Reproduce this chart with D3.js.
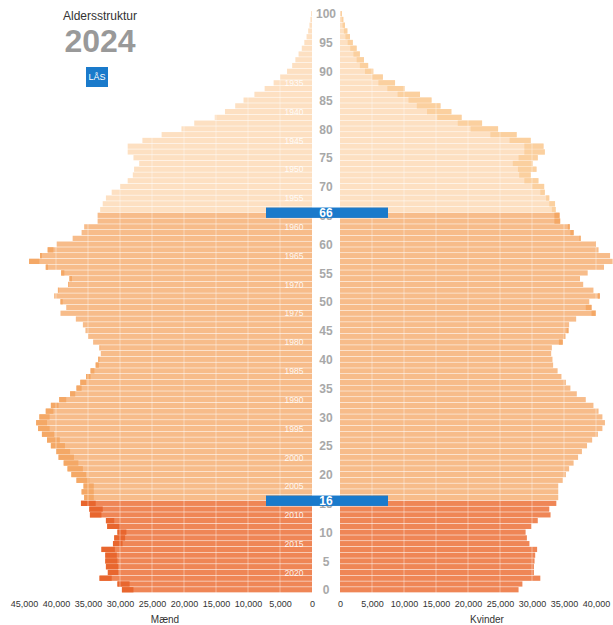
<!DOCTYPE html>
<html>
<head>
<meta charset="utf-8">
<script src="https://cdn.jsdelivr.net/npm/d3@7"></script>
<style>
  body { margin: 0; background: #fff; font-family: "Liberation Sans", Arial, sans-serif; }
</style>
</head>
<body>
<div id="pyramid"></div>
<script>
// Aldersstruktur 2024 - population pyramid (men left, women right)

const ages = d3.range(0, 101);

// men by age 0..100
const maend = [
  29700, 30400, 33200, 31900, 32200, 32300, 32300, 32900, 31100, 30900,
  30400, 32000, 32200, 34700, 34800, 36100, 35600, 36000, 35700, 36800,
  37600, 38200, 38800, 39600, 40000, 40800, 41400, 42200, 42800, 43100,
  42600, 41600, 40800, 39500, 37800, 36800, 36200, 35300, 34600, 33800,
  33400, 33000, 33200, 34200, 35000, 35400, 35800, 36900, 39300, 38400,
  39300, 40300, 39700, 38100, 37900, 39200, 41600, 44200, 42500, 41300,
  39900, 37400, 36000, 35600, 33500, 33500, 33100, 32700, 32200, 31300,
  30000, 28800, 28000, 27800, 27000, 27900, 28800, 28800, 26500, 23500,
  20400, 18400, 15200, 13600, 12000, 10700, 9000, 7400, 6000, 5000,
  3900, 3100, 2600, 2100, 1600, 1200, 850, 600, 400, 250,
  150
];

// women by age 0..100
const kvinder = [
  27900, 28500, 31300, 30300, 30300, 30400, 30500, 30800, 29600, 29200,
  29000, 29900, 30900, 32900, 32700, 33800, 34100, 34100, 34100, 34800,
  35300, 35800, 36500, 37200, 37800, 38600, 39400, 40300, 41000, 41400,
  41000, 40400, 39600, 38400, 37000, 36000, 35300, 34600, 34000, 33300,
  33200, 33000, 33100, 34800, 35200, 35700, 35800, 36900, 40000, 39300,
  38950, 40600, 39600, 38000, 37500, 38700, 41250, 42600, 42200, 40400,
  40000, 37600, 36500, 35900, 34400, 34300, 33700, 33600, 32700, 32000,
  31900, 31000, 29800, 30700, 30100, 30900, 32000, 31800, 29800, 27600,
  24700, 22200, 19000, 17400, 15700, 14300, 12500, 10100, 8600, 6700,
  5200, 4400, 3750, 3100, 2600, 2000, 1560, 1150, 780, 520,
  300
];

const leftTicks = [45000, 40000, 35000, 30000, 25000, 20000, 15000, 10000, 5000, 0];
const rightTicks = [0, 5000, 10000, 15000, 20000, 25000, 30000, 35000, 40000];
const ageLabels = d3.range(0, 101, 5);
const birthYears = d3.range(1935, 2021, 5);
const markerAges = [16, 66];

const width = 613, height = 625;

const svg = d3.select("#pyramid").append("svg")
  .attr("width", width)
  .attr("height", height);

// scales
const xLeft = d3.scaleLinear().domain([0, 45000]).range([312, 24]);
const xRight = d3.scaleLinear().domain([0, 45000]).range([340, 628]);
const y = d3.scaleBand().domain(ages.slice().reverse()).range([11.1, 592.9]).padding(0);
const bw = y.bandwidth();
const barH = bw - 0.55;

// colours by age group: 0-15, 16-65, 66+
function group(a) { return a < 16 ? 0 : (a < 66 ? 1 : 2); }
const baseCol = ["#ef8656", "#f7bc8a", "#fde0c2"];
const extraCol = ["#e8662e", "#f4a866", "#fbd09f"];

const rows = ages.map(a => ({ age: a, m: maend[a], k: kvinder[a] }));

// men bars
const bars = svg.append("g");
bars.selectAll(".m").data(rows).join("rect")
  .attr("x", d => xLeft(d.m))
  .attr("y", d => y(d.age))
  .attr("width", d => xLeft(0) - xLeft(d.m))
  .attr("height", barH)
  .attr("fill", d => baseCol[group(d.age)]);

// women bars
bars.selectAll(".k").data(rows).join("rect")
  .attr("x", xRight(0))
  .attr("y", d => y(d.age))
  .attr("width", d => xRight(d.k) - xRight(0))
  .attr("height", barH)
  .attr("fill", d => baseCol[group(d.age)]);

// surplus of one sex over the other, darker
bars.selectAll(".mx").data(rows.filter(d => d.m > d.k)).join("rect")
  .attr("x", d => xLeft(d.m))
  .attr("y", d => y(d.age))
  .attr("width", d => xLeft(d.k) - xLeft(d.m))
  .attr("height", barH)
  .attr("fill", d => extraCol[group(d.age)]);

bars.selectAll(".kx").data(rows.filter(d => d.k > d.m)).join("rect")
  .attr("x", d => xRight(d.m))
  .attr("y", d => y(d.age))
  .attr("width", d => xRight(d.k) - xRight(d.m))
  .attr("height", barH)
  .attr("fill", d => extraCol[group(d.age)]);

// white grid lines over the bars
const grid = svg.append("g").attr("stroke", "#fff").attr("stroke-opacity", 0.4);
grid.selectAll(".gl").data(leftTicks.filter(t => t > 0)).join("line")
  .attr("x1", d => xLeft(d)).attr("x2", d => xLeft(d))
  .attr("y1", 11).attr("y2", 593);
grid.selectAll(".gr").data(rightTicks.filter(t => t > 0)).join("line")
  .attr("x1", d => xRight(d)).attr("x2", d => xRight(d))
  .attr("y1", 11).attr("y2", 593);

// birth year labels
svg.append("g").selectAll("text").data(birthYears).join("text")
  .attr("x", 294)
  .attr("y", d => y(2023 - d) + bw / 2)
  .attr("dy", "0.35em")
  .attr("text-anchor", "middle")
  .attr("font-size", "8.5px")
  .attr("fill", "#fff")
  .attr("fill-opacity", 0.9)
  .text(d => d);

// age labels in centre
svg.append("g").selectAll("text").data(ageLabels).join("text")
  .attr("x", 326)
  .attr("y", d => y(d) + bw / 2)
  .attr("dy", "0.36em")
  .attr("text-anchor", "middle")
  .attr("font-size", "12px")
  .attr("font-weight", "bold")
  .attr("fill", "#a8a8a8")
  .text(d => d);

// age markers
const mk = svg.append("g").selectAll("g").data(markerAges).join("g")
  .attr("transform", d => `translate(0,${y(d) + bw})`);
mk.append("rect")
  .attr("x", 266).attr("y", -5.2)
  .attr("width", 122).attr("height", 10.4)
  .attr("fill", "#1a7acb");
mk.append("text")
  .attr("x", 326).attr("y", 0)
  .attr("dy", "0.36em")
  .attr("text-anchor", "middle")
  .attr("font-size", "12px")
  .attr("font-weight", "bold")
  .attr("fill", "#fff")
  .text(d => d);

// axes (tick labels only)
const fmt = d3.format(",");
const axL = svg.append("g").attr("transform", "translate(0,593)")
  .call(d3.axisBottom(xLeft).tickValues(leftTicks).tickFormat(fmt).tickSize(0).tickPadding(8));
const axR = svg.append("g").attr("transform", "translate(0,593)")
  .call(d3.axisBottom(xRight).tickValues(rightTicks).tickFormat(fmt).tickSize(0).tickPadding(8));
[axL, axR].forEach(ax => {
  ax.select(".domain").remove();
  ax.selectAll("text")
    .attr("font-size", "9px")
    .attr("font-family", "Liberation Sans, Arial, sans-serif")
    .attr("fill", "#333");
});

svg.append("text").attr("x", 165).attr("y", 623)
  .attr("text-anchor", "middle").attr("font-size", "10px").attr("fill", "#333")
  .text("Mænd");
svg.append("text").attr("x", 487).attr("y", 623)
  .attr("text-anchor", "middle").attr("font-size", "10px").attr("fill", "#333")
  .text("Kvinder");

// title block
svg.append("text").attr("x", 100).attr("y", 20)
  .attr("text-anchor", "middle").attr("font-size", "12px").attr("fill", "#333")
  .text("Aldersstruktur");
svg.append("text").attr("x", 100).attr("y", 52)
  .attr("text-anchor", "middle").attr("font-size", "32px").attr("font-weight", "bold")
  .attr("fill", "#999")
  .text("2024");
svg.append("rect").attr("x", 86).attr("y", 67).attr("width", 22).attr("height", 20)
  .attr("fill", "#1a7acb");
svg.append("text").attr("x", 97).attr("y", 80)
  .attr("text-anchor", "middle").attr("font-size", "9px").attr("fill", "#fff")
  .text("LÅS");
</script>
</body>
</html>
